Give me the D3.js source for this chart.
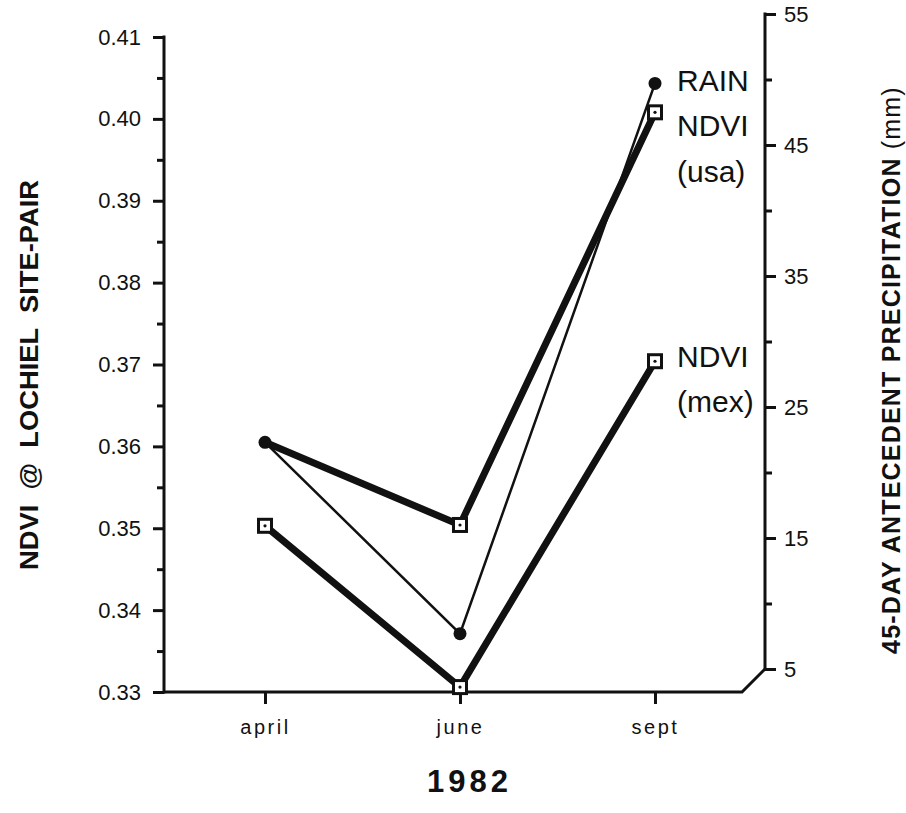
<!DOCTYPE html>
<html>
<head>
<meta charset="utf-8">
<script src="https://cdn.jsdelivr.net/npm/d3@7"></script>
<style>
  body { margin: 0; background: #fff; }
  svg { font-family: "Liberation Sans", Arial, sans-serif; }
</style>
</head>
<body>
<svg id="chart" width="906" height="813"></svg>
<script>
// data
const months = ['april', 'june', 'sept']
const ndviUsa = [0.3605, 0.3504, 0.4008]
const ndviMex = [0.3503, 0.3306, 0.3704]
const rain = [22.3, 7.7, 49.7]            // mm, right axis
const leftTicks = [0.33, 0.34, 0.35, 0.36, 0.37, 0.38, 0.39, 0.40, 0.41]
const leftMinor = [0.335, 0.345, 0.355, 0.365, 0.375, 0.385, 0.395, 0.405]
const rightTicks = [5, 15, 25, 35, 45, 55]
const rightMinor = [10, 20, 30, 40, 50]

const svg = d3.select('#chart')

// geometry
const left = 164, right = 765, bottom = 692

const x = d3.scalePoint().domain(months).range([265, 655])
const yL = d3.scaleLinear().domain([0.33, 0.41]).range([bottom, 37])
const yR = d3.scaleLinear().domain([5, 55]).range([669, 14])

const ink = '#111'
const font = '"Liberation Sans", Arial, sans-serif'

// left axis
const gL = svg.append('g').attr('transform', `translate(${left},0)`)
gL.call(d3.axisLeft(yL).tickValues(leftTicks).tickSize(11).tickPadding(12)
    .tickFormat(d3.format('.2f')))
  .call(g => g.select('.domain').remove())
gL.append('g').call(d3.axisLeft(yL).tickValues(leftMinor).tickSize(7).tickFormat(''))
  .call(g => g.select('.domain').remove())
gL.append('line').attr('y1', yL(0.41) - 1.5).attr('y2', bottom + 1.5)

// right axis
const gR = svg.append('g').attr('transform', `translate(${right},0)`)
gR.call(d3.axisRight(yR).tickValues(rightTicks).tickSize(11).tickPadding(8).tickFormat(d3.format('d')))
  .call(g => g.select('.domain').remove())
gR.append('g').call(d3.axisRight(yR).tickValues(rightMinor).tickSize(7).tickFormat(''))
  .call(g => g.select('.domain').remove())
gR.append('line').attr('y1', yR(55) - 1.5).attr('y2', yR(5) + 1)

// bottom axis with the slanted join to the right axis
const gB = svg.append('g').attr('transform', `translate(0,${bottom})`)
gB.call(d3.axisBottom(x).tickSize(12).tickPadding(16))
  .call(g => g.select('.domain').remove())
const cut = bottom - yR(5)
svg.append('path')
  .attr('d', `M${left},${bottom}H${right - cut}L${right},${yR(5)}`)
  .attr('fill', 'none').attr('stroke', ink).attr('stroke-width', 3)

svg.selectAll('.tick line').attr('stroke', ink).attr('stroke-width', 3)
gL.selectAll('line').attr('stroke', ink).attr('stroke-width', 3)
gR.selectAll('line').attr('stroke', ink).attr('stroke-width', 3)
svg.selectAll('.tick text').attr('fill', ink).attr('font-size', 22).attr('font-family', font)
gB.selectAll('.tick text').attr('font-size', 20).attr('letter-spacing', 2.5)

// lines
const lineL = d3.line().x((d, i) => x(months[i])).y(d => yL(d))
const lineR = d3.line().x((d, i) => x(months[i])).y(d => yR(d))

svg.append('path').attr('d', lineL(ndviUsa)).attr('fill', 'none')
  .attr('stroke', ink).attr('stroke-width', 7).attr('stroke-linejoin', 'round')
svg.append('path').attr('d', lineL(ndviMex)).attr('fill', 'none')
  .attr('stroke', ink).attr('stroke-width', 7).attr('stroke-linejoin', 'round')
svg.append('path').attr('d', lineR(rain)).attr('fill', 'none')
  .attr('stroke', ink).attr('stroke-width', 2.5)

// square markers (the april usa point sits under the rain dot)
const squares = []
ndviUsa.forEach((v, i) => { if (i > 0) squares.push({ m: months[i], y: yL(v) }) })
ndviMex.forEach((v, i) => squares.push({ m: months[i], y: yL(v) }))
const sq = 13
svg.append('g').selectAll('rect').data(squares).join('rect')
  .attr('x', d => x(d.m) - sq / 2).attr('y', d => d.y - sq / 2)
  .attr('width', sq).attr('height', sq)
  .attr('fill', '#fff').attr('stroke', ink).attr('stroke-width', 3)
svg.append('g').selectAll('circle').data(squares).join('circle')
  .attr('cx', d => x(d.m)).attr('cy', d => d.y).attr('r', 1.6).attr('fill', ink)

svg.append('g').selectAll('circle').data(rain).join('circle')
  .attr('cx', (d, i) => x(months[i])).attr('cy', d => yR(d)).attr('r', 6.5).attr('fill', ink)

// series labels
const labels = [
  { t: 'RAIN', y: 91 }, { t: 'NDVI', y: 136 }, { t: '(usa)', y: 182 },
  { t: 'NDVI', y: 367 }, { t: '(mex)', y: 412 }
]
svg.append('g').selectAll('text').data(labels).join('text')
  .attr('x', 677).attr('y', d => d.y).attr('font-size', 30).attr('fill', ink)
  .text(d => d.t)

// axis titles
svg.append('text')
  .attr('transform', 'translate(38,375) rotate(-90)')
  .attr('text-anchor', 'middle').attr('font-size', 26).attr('font-weight', 'bold')
  .attr('fill', ink).attr('textLength', 390).attr('lengthAdjust', 'spacingAndGlyphs')
  .attr('xml:space', 'preserve')
  .text('NDVI  @  LOCHIEL  SITE-PAIR')

const rt = svg.append('text')
  .attr('transform', 'translate(900,370) rotate(-90)')
  .attr('text-anchor', 'middle').attr('font-size', 25).attr('letter-spacing', 1.2).attr('fill', ink)
rt.append('tspan').attr('font-weight', 'bold').text('45-DAY ANTECEDENT PRECIPITATION ')
rt.append('tspan').text('(mm)')

svg.append('text')
  .attr('x', 427).attr('y', 792)
  .attr('font-size', 31).attr('font-weight', 'bold').attr('letter-spacing', 4)
  .attr('fill', ink).text('1982')
</script>
</body>
</html>
